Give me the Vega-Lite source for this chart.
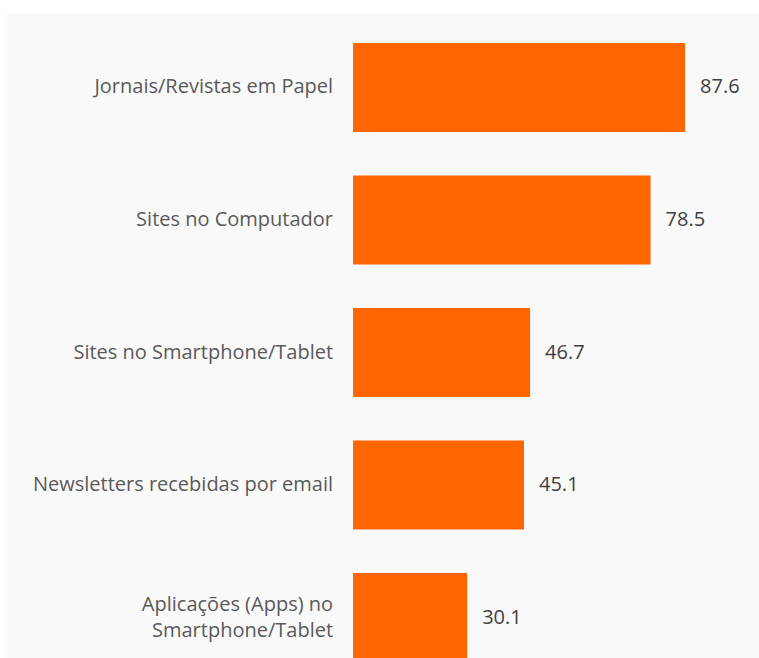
{
  "$schema": "https://vega.github.io/schema/vega-lite/v6.json",
  "autosize": {"type": "none"},
  "width": 752,
  "height": 679,
  "padding": {"left": 7, "top": 13, "right": 0, "bottom": 0},
  "background": "#ffffff",
  "config": {"view": {"fill": "#f9f9f9", "stroke": null}},
  "data": {
    "values": [
      {"canal": "Jornais/Revistas em Papel", "valor": 87.6},
      {"canal": "Sites no Computador", "valor": 78.5},
      {"canal": "Sites no Smartphone/Tablet", "valor": 46.7},
      {"canal": "Newsletters recebidas por email", "valor": 45.1},
      {"canal": "Aplicações (Apps) no\nSmartphone/Tablet", "valor": 30.1}
    ]
  },
  "encoding": {
    "y": {
      "field": "canal",
      "type": "nominal",
      "sort": null,
      "scale": {"paddingInner": 0.328, "paddingOuter": 0.226},
      "axis": null
    }
  },
  "layer": [
    {
      "mark": {"type": "bar", "color": "#ff6600"},
      "encoding": {
        "x": {
          "field": "valor",
          "type": "quantitative",
          "scale": {"domain": [-91.3, 107.1], "nice": false, "zero": false},
          "axis": null
        }
      }
    },
    {
      "mark": {"type": "text", "align": "left", "baseline": "middle", "dx": 15, "font": "Open Sans", "fontSize": 20, "color": "#404040"},
      "encoding": {
        "x": {"field": "valor", "type": "quantitative"},
        "text": {"field": "valor", "type": "quantitative", "format": ".1f"}
      }
    },
    {
      "transform": [{"filter": "indexof(datum.canal, '\\n') < 0"}],
      "mark": {"type": "text", "align": "right", "baseline": "middle", "dx": -20, "font": "Open Sans", "fontSize": 20, "color": "#595959"},
      "encoding": {
        "x": {"datum": 0},
        "text": {"field": "canal", "type": "nominal"}
      }
    },
    {
      "transform": [{"filter": "indexof(datum.canal, '\\n') >= 0"}],
      "mark": {"type": "text", "align": "right", "baseline": "middle", "dx": -20, "dy": -13, "font": "Open Sans", "fontSize": 20, "color": "#595959", "lineBreak": "\n", "lineHeight": 26},
      "encoding": {
        "x": {"datum": 0},
        "text": {"field": "canal", "type": "nominal"}
      }
    }
  ]
}
